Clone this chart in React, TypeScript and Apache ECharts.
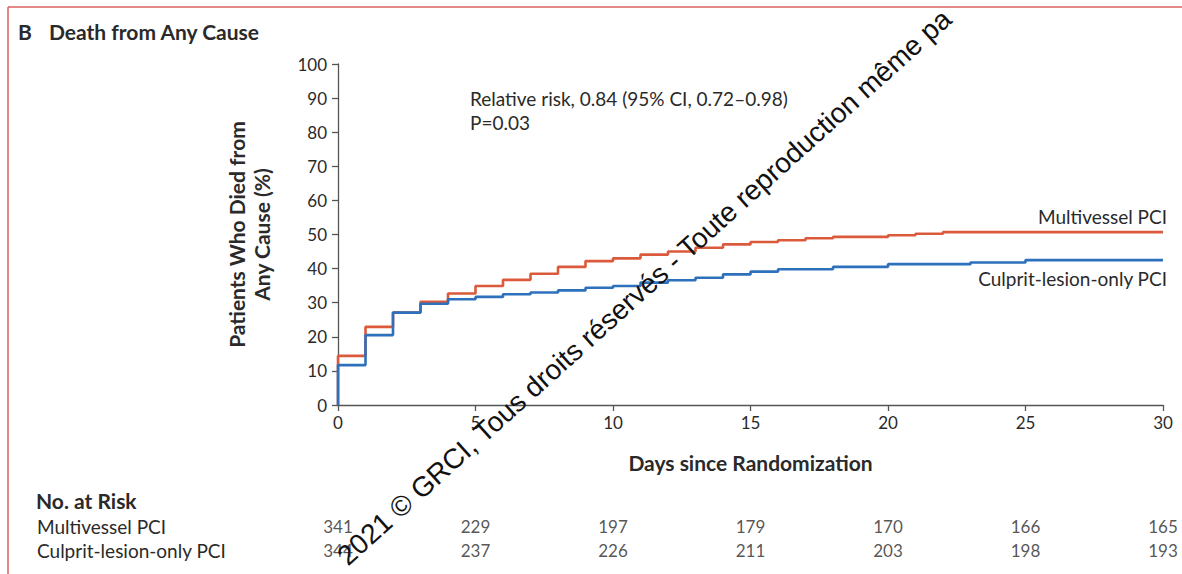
import React, { useEffect, useRef } from "react";
import * as echarts from "echarts";

// ---- Data ----
const X_TICKS_MAX = 30;
const MULTI_T = [0, 0, 1, 2, 3, 4, 5, 6, 7, 8, 9, 10, 11, 12, 13, 14, 15, 16, 17, 18, 20, 21, 22, 30];
const MULTI_V = [0, 14.4, 22.9, 27.1, 30.3, 32.7, 34.9, 36.7, 38.5, 40.5, 42.2, 43.0, 44.1, 45.0, 46.1, 47.1, 47.8, 48.3, 48.9, 49.3, 49.8, 50.2, 50.7, 50.7];
const CULPRIT_T = [0, 0, 1, 2, 3, 4, 5, 6, 7, 8, 9, 10, 11, 12, 13, 14, 15, 16, 18, 20, 23, 25, 30];
const CULPRIT_V = [0, 11.7, 20.5, 27.1, 29.7, 31.0, 31.7, 32.5, 33.0, 33.6, 34.4, 34.9, 35.9, 36.6, 37.3, 38.3, 39.1, 39.8, 40.5, 41.3, 41.8, 42.5, 42.5];

const GROUPS = ["Multivessel PCI", "Culprit-lesion-only PCI"];
const RISK_DAYS = [0, 5, 10, 15, 20, 25, 30];
const RISK_MULTI = [341, 229, 197, 179, 170, 166, 165];
const RISK_CULPRIT = [344, 237, 226, 211, 203, 198, 193];

const TITLE_LETTER = "B";
const TITLE = "Death from Any Cause";
const Y_NAME = "Patients Who Died from\nAny Cause (%)";
const X_NAME = "Days since Randomization";
const STATS = ["Relative risk, 0.84 (95% CI, 0.72\u20130.98)", "P=0.03"];
const RISK_TITLE = "No. at Risk";
const WATERMARK = "2021 \u00a9 GRCI, Tous droits r\u00e9serv\u00e9s - Toute reproduction m\u00eame pa";

const RED = "#DC5A3C";
const BLUE = "#2D70BC";
const FONT = "Lato";
const TXT = "#2a2a2a";

export default function App() {
  const ref = useRef<HTMLDivElement>(null);
  useEffect(() => {
    document.body.style.margin = "0";
    const chart = echarts.init(ref.current!, null, { renderer: "svg" });
    const multi = MULTI_T.map((t, i) => [t, MULTI_V[i]]);
    const culprit = CULPRIT_T.map((t, i) => [t, CULPRIT_V[i]]);
    const riskData: any[] = [];
    RISK_DAYS.forEach((d, i) => {
      riskData.push([d, GROUPS[0], RISK_MULTI[i]]);
      riskData.push([d, GROUPS[1], RISK_CULPRIT[i]]);
    });
    const option: any = {
      animation: false,
      backgroundColor: "#ffffff",
      textStyle: { fontFamily: FONT },
      grid: [
        { left: 338, right: 19, top: 64, bottom: 169 },
        { left: 338, right: 19, top: 514, height: 48 },
      ],
      xAxis: [
        {
          type: "value",
          gridIndex: 0,
          min: 0,
          max: X_TICKS_MAX,
          interval: 5,
          axisLine: { lineStyle: { color: "#555", width: 1.3 } },
          axisTick: { show: true, length: 6, lineStyle: { color: "#555", width: 1.3 } },
          splitLine: { show: false },
          axisLabel: { fontSize: 17, color: TXT, margin: 9, fontFamily: FONT },
          name: X_NAME,
          nameLocation: "middle",
          nameGap: 47,
          nameTextStyle: { fontSize: 21, fontWeight: "bold", color: TXT, fontFamily: FONT },
        },
        {
          type: "value",
          gridIndex: 1,
          min: 0,
          max: X_TICKS_MAX,
          show: false,
        },
      ],
      yAxis: [
        {
          type: "value",
          gridIndex: 0,
          min: 0,
          max: 100,
          interval: 10,
          axisLine: { show: true, lineStyle: { color: "#555", width: 1.3 } },
          axisTick: { show: true, length: 6, lineStyle: { color: "#555", width: 1.3 } },
          splitLine: { show: false },
          axisLabel: { fontSize: 17, color: TXT, margin: 11, fontFamily: FONT },
          name: Y_NAME,
          nameLocation: "middle",
          nameGap: 64,
          nameRotate: 90,
          nameTextStyle: { fontSize: 21, fontWeight: "bold", color: TXT, lineHeight: 25, fontFamily: FONT },
        },
        {
          type: "category",
          gridIndex: 1,
          data: GROUPS,
          inverse: true,
          axisLine: { show: false },
          axisTick: { show: false },
          axisLabel: { interval: 0, hideOverlap: false, align: "left", margin: 301, fontSize: 19, color: TXT, fontFamily: FONT },
        },
      ],
      series: [
        {
          name: GROUPS[0],
          type: "line",
          xAxisIndex: 0,
          yAxisIndex: 0,
          step: "end",
          data: multi,
          showSymbol: false,
          symbol: "none",
          lineStyle: { color: RED, width: 2.6 },
          clip: false,
        },
        {
          name: GROUPS[1],
          type: "line",
          xAxisIndex: 0,
          yAxisIndex: 0,
          step: "end",
          data: culprit,
          showSymbol: false,
          symbol: "none",
          lineStyle: { color: BLUE, width: 2.6 },
          clip: false,
        },
        {
          type: "scatter",
          xAxisIndex: 1,
          yAxisIndex: 1,
          symbolSize: 1,
          itemStyle: { color: "rgba(0,0,0,0)" },
          data: riskData,
          label: {
            show: true,
            position: "inside",
            formatter: (p: any) => String(p.value[2]),
            fontSize: 17,
            color: TXT,
            fontFamily: FONT,
          },
        },
      ],
      graphic: [
        { type: "line", shape: { x1: 8, y1: 7, x2: 1182, y2: 7 }, style: { stroke: "#D9605E", lineWidth: 1.5 } },
        { type: "line", shape: { x1: 8, y1: 7, x2: 8, y2: 574 }, style: { stroke: "#D9605E", lineWidth: 1.5 } },
        { type: "text", x: 18, y: 31, style: { text: TITLE_LETTER, font: `bold 21px ${FONT}`, fill: TXT, textVerticalAlign: "middle" } },
        { type: "text", x: 49, y: 31, style: { text: TITLE, font: `bold 21px ${FONT}`, fill: TXT, textVerticalAlign: "middle" } },
        { type: "text", x: 470, y: 98, style: { text: STATS[0], font: `19px ${FONT}`, fill: TXT, textVerticalAlign: "middle" } },
        { type: "text", x: 470, y: 122, style: { text: STATS[1], font: `19px ${FONT}`, fill: TXT, textVerticalAlign: "middle" } },
        { type: "text", x: 1167, y: 216, style: { text: GROUPS[0], font: `19px ${FONT}`, fill: TXT, textAlign: "right", textVerticalAlign: "middle" } },
        { type: "text", x: 1167, y: 278, style: { text: GROUPS[1], font: `19px ${FONT}`, fill: TXT, textAlign: "right", textVerticalAlign: "middle" } },
        { type: "text", x: 36, y: 500, style: { text: RISK_TITLE, font: `bold 21px ${FONT}`, fill: TXT, textVerticalAlign: "middle" } },
        {
          type: "text",
          x: 351,
          y: 570,
          rotation: (42 * Math.PI) / 180,
          style: { text: WATERMARK, font: `28px "Liberation Sans"`, fill: "#111", textAlign: "left", textVerticalAlign: "bottom" },
          z: 100,
        },
      ],
    };
    chart.setOption(option);
    return () => chart.dispose();
  }, []);
  return <div ref={ref} style={{ width: 1182, height: 574 }} />;
}
